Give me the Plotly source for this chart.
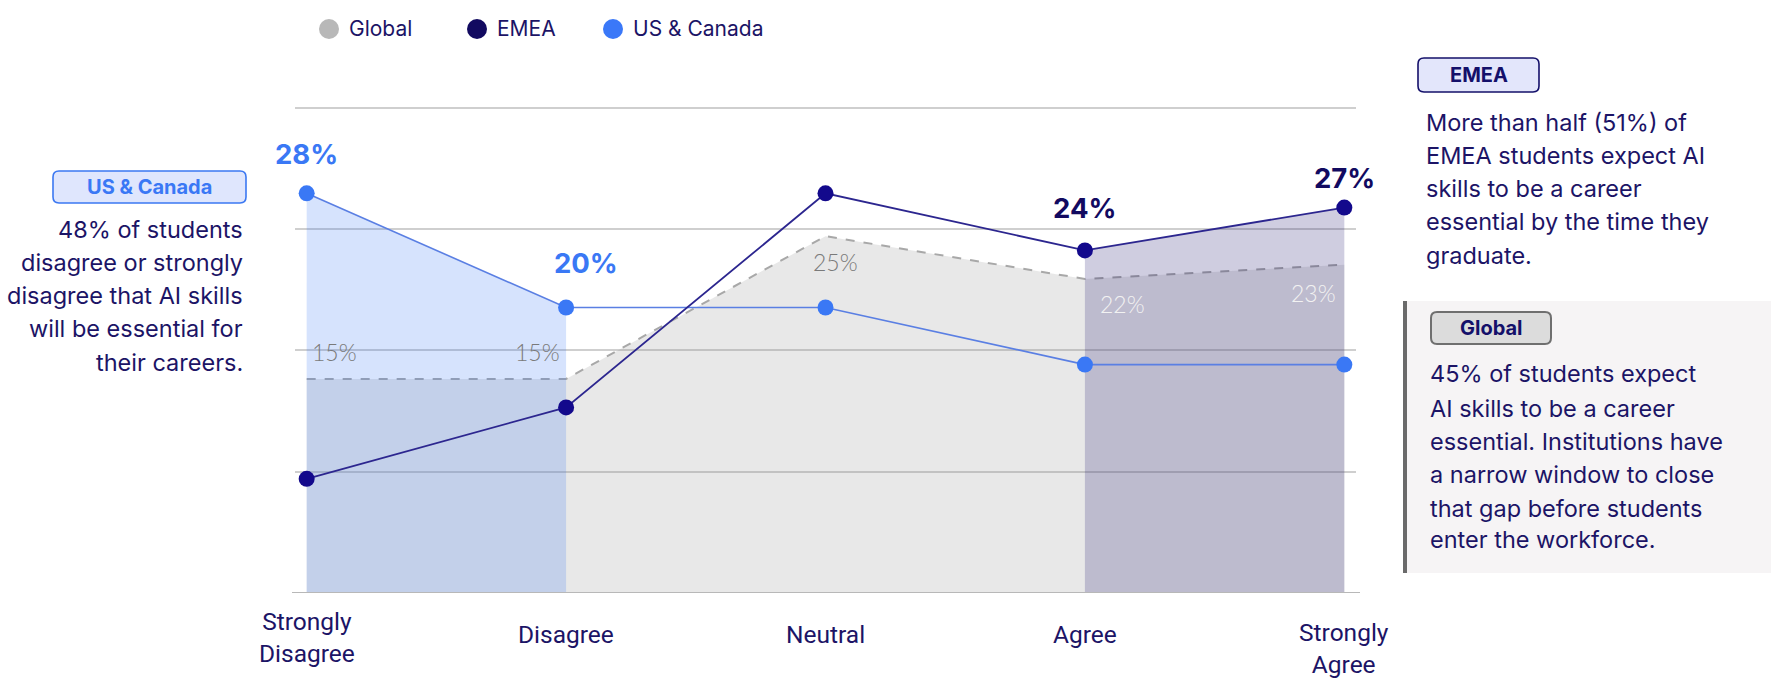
import plotly.graph_objects as go

# ---- data -------------------------------------------------------------
categories = ["Strongly<br>Disagree", "Disagree", "Neutral", "Agree", "Strongly<br>Agree"]
series_names = ["Global", "EMEA", "US & Canada"]
global_vals = [15, 15, 25, 22, 23]
emea_vals = [8, 13, 28, 24, 27]
us_canada_vals = [28, 20, 20, 16, 16]
grid_vals = [8.5, 17, 25.5, 34]

# ---- geometry helpers (pixel -> paper) ---------------------------------
W, H = 1771, 679
PL, PR, PT, PB = 295, 1356, 22, 593


def px(x):
    return (x - PL) / (PR - PL)


def py(y):
    return (PB - y) / (PB - PT)


NAVY = "#1c1466"
BLUE = "#3a78f5"
EMEA_DOT = "#13098c"
GREY_LINE = "#a8a8a8"

xs = list(range(len(categories)))
fig = go.Figure()

# Global area with dashed outline
fig.add_trace(go.Scatter(
    x=xs, y=global_vals, mode="lines",
    line=dict(color=GREY_LINE, width=2, dash="dash"),
    fill="tozeroy", fillcolor="rgba(150,150,150,0.22)", hoverinfo="skip"))
# US & Canada disagree-side area
fig.add_trace(go.Scatter(
    x=xs[:2], y=us_canada_vals[:2], mode="none",
    fill="tozeroy", fillcolor="rgba(50,115,245,0.20)", hoverinfo="skip"))
# EMEA agree-side area
fig.add_trace(go.Scatter(
    x=xs[3:], y=emea_vals[3:], mode="none",
    fill="tozeroy", fillcolor="rgba(30,20,110,0.21)", hoverinfo="skip"))
# Lines with markers
fig.add_trace(go.Scatter(
    x=xs, y=us_canada_vals, mode="lines+markers",
    line=dict(color="#5a7fe3", width=1.6),
    marker=dict(color=BLUE, size=16)))
fig.add_trace(go.Scatter(
    x=xs, y=emea_vals, mode="lines+markers",
    line=dict(color="#2c268f", width=1.8),
    marker=dict(color=EMEA_DOT, size=16)))

annotations = []
shapes = []

# ---- value labels -------------------------------------------------------
bold_labels = [
    (0, us_canada_vals, BLUE, 0, 39),
    (1, us_canada_vals, BLUE, 20, 45),
    (3, emea_vals, "#120a60", 0, 42),
    (4, emea_vals, "#120a60", 0, 30),
]
for i, vals, col, dx, dy in bold_labels:
    annotations.append(dict(
        x=i, y=vals[i], xref="x", yref="y", text=f"{vals[i]}%", showarrow=False,
        xanchor="center", yanchor="middle", xshift=dx, yshift=dy,
        font=dict(family="Inter", size=27.5, color=col, weight=700)))

light_labels = [
    (0, "#7a7a7a", 28, 27),
    (1, "#7a7a7a", -29, 27),
    (2, "#7a7a7a", 10, -26),
    (3, "#f2f2f2", 38, -25),
    (4, "#f2f2f2", -31, -28),
]
for i, col, dx, dy in light_labels:
    annotations.append(dict(
        x=i, y=global_vals[i], xref="x", yref="y", text=f"{global_vals[i]}%",
        showarrow=False, xanchor="center", yanchor="middle", xshift=dx, yshift=dy,
        font=dict(family="Lato", size=23, color=col, weight=300)))

# ---- category labels --------------------------------------------------
cat_centres = [637, 634, 634, 634, 648]
for i, (lab, cy) in enumerate(zip(categories, cat_centres)):
    annotations.append(dict(
        x=i, y=py(cy), xref="x", yref="paper", text=lab, showarrow=False,
        xanchor="center", yanchor="middle",
        font=dict(family="Roboto", size=24.5, color=NAVY)))

# ---- legend -----------------------------------------------------------
legend_colors = ["#b8b8b8", "#120a60", "#3a78f8"]
legend_x = [329, 477, 613]
for name, col, cx in zip(series_names, legend_colors, legend_x):
    shapes.append(dict(type="circle", xref="paper", yref="paper",
                       x0=px(cx - 10), x1=px(cx + 10), y0=py(39), y1=py(19),
                       fillcolor=col, line=dict(width=0)))
    annotations.append(dict(x=px(cx + 18), y=py(29), xref="paper", yref="paper",
                            text=name, showarrow=False, xanchor="left",
                            yanchor="middle",
                            font=dict(family="Inter", size=21, color=NAVY)))


def pill(x0, x1, y0, y1, fill, border, bw, r=6):
    ax0, ax1 = px(x0), px(x1)
    ay0, ay1 = py(y1), py(y0)
    rx, ry = r / (PR - PL), r / (PB - PT)
    path = (f"M {ax0 + rx},{ay0} L {ax1 - rx},{ay0} Q {ax1},{ay0} {ax1},{ay0 + ry} "
            f"L {ax1},{ay1 - ry} Q {ax1},{ay1} {ax1 - rx},{ay1} "
            f"L {ax0 + rx},{ay1} Q {ax0},{ay1} {ax0},{ay1 - ry} "
            f"L {ax0},{ay0 + ry} Q {ax0},{ay0} {ax0 + rx},{ay0} Z")
    shapes.append(dict(type="path", xref="paper", yref="paper", path=path,
                       fillcolor=fill, line=dict(color=border, width=bw)))


def pill_label(text, cx, cy, col):
    annotations.append(dict(x=px(cx), y=py(cy), xref="paper", yref="paper",
                            text=text, showarrow=False, xanchor="center",
                            yanchor="middle",
                            font=dict(family="Inter", size=20, color=col, weight=700)))


def text_lines(lines, x, centres, anchor, size=23.5):
    for line, cy in zip(lines, centres):
        annotations.append(dict(x=px(x), y=py(cy), xref="paper", yref="paper",
                                text=line, showarrow=False, xanchor=anchor,
                                yanchor="middle",
                                font=dict(family="Inter", size=size, color=NAVY)))


# ---- US & Canada callout ------------------------------------------------
pill(53, 246, 171, 203, "#dfe6fd", "#3b78f2", 1.6)
pill_label("US & Canada", 149.5, 187, BLUE)
text_lines(["48% of students", "disagree or strongly", "disagree that AI skills",
            "will be essential for", "their careers."],
           245, [229, 262, 295, 329, 362], "right")

# ---- EMEA callout -------------------------------------------------------
pill(1418, 1539, 58, 92, "#e3e6fb", "#14106a", 1.6)
pill_label("EMEA", 1478.5, 75, "#14106a")
text_lines(["More than half (51%) of", "EMEA students expect AI",
            "skills to be a career", "essential by the time they", "graduate."],
           1424, [122, 155, 188, 222, 255], "left")

# ---- Global callout -----------------------------------------------------
shapes.append(dict(type="rect", xref="paper", yref="paper",
                   x0=px(1403), x1=px(1771), y0=py(573), y1=py(301),
                   fillcolor="#f6f4f5", line=dict(width=0), layer="below"))
shapes.append(dict(type="rect", xref="paper", yref="paper",
                   x0=px(1403), x1=px(1407), y0=py(573), y1=py(301),
                   fillcolor="#6a6a6a", line=dict(width=0)))
pill(1431, 1551, 312, 344, "#dcdcdc", "#6f6f6f", 2)
pill_label("Global", 1491, 328, "#14106a")
text_lines(["45% of students expect", "AI skills to be a career",
            "essential. Institutions have", "a narrow window to close",
            "that gap before students", "enter the workforce."],
           1428, [373, 408, 441, 474, 508, 539], "left")

# ---- baseline -----------------------------------------------------------
shapes.append(dict(type="line", xref="paper", yref="y", x0=px(292), x1=px(1360),
                   y0=0, y1=0, line=dict(color="#b8b8b8", width=2.2), layer="above"))

fig.update_layout(
    width=W, height=H,
    margin=dict(l=PL, r=W - PR, t=PT, b=H - PB),
    plot_bgcolor="white", paper_bgcolor="white",
    showlegend=False,
    xaxis=dict(range=[-0.045, 4.045], showgrid=False, zeroline=False,
               showticklabels=False, fixedrange=True),
    yaxis=dict(range=[0, 40], tickvals=grid_vals, showticklabels=False,
               showgrid=True, gridcolor="#cfcfcf", gridwidth=1.5,
               zeroline=False, fixedrange=True),
    annotations=annotations, shapes=shapes,
)

fig.write_html("out.html")
